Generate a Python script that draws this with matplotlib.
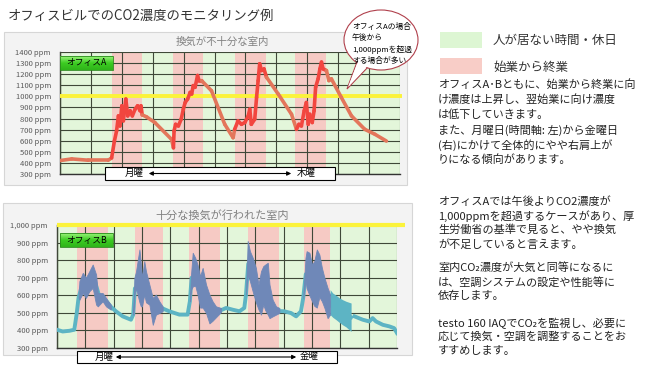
import matplotlib
matplotlib.use("Agg")
import matplotlib.pyplot as plt
import numpy as np
from matplotlib.collections import LineCollection
from matplotlib.patches import Rectangle, Ellipse, Polygon
from matplotlib.colors import LinearSegmentedColormap

plt.rcParams['font.family'] = ['Noto Sans CJK JP', 'DejaVu Sans']

# ---------------- data ----------------
# Office A (time axis in 12h units, 0..11)
a_x = [0, 0.38, 0.92, 1.56, 1.67, 1.76, 1.83, 1.89, 1.94, 2.0, 2.05, 2.13, 2.19, 2.27, 2.34, 2.43,
       2.51, 2.59, 2.62, 2.66, 2.80, 3.07, 3.61, 3.67, 3.69, 3.74, 3.83, 3.92, 3.99, 4.05, 4.13,
       4.21, 4.26, 4.31, 4.37, 4.45, 4.5, 4.58, 4.9, 5.33, 5.6, 5.65, 5.76, 5.87, 5.98, 6.09, 6.14,
       6.19, 6.3, 6.36, 6.41, 6.46, 6.52, 6.6, 6.68, 7.06, 7.49, 7.65, 7.73, 7.81, 7.9, 7.97, 8.03,
       8.08, 8.16, 8.22, 8.27, 8.35, 8.41, 8.46, 8.51, 8.62, 8.7, 8.78, 9.1, 9.43, 9.86, 10.19, 10.56]
a_y = [421, 436, 424, 424, 445, 597, 688, 824, 733, 915, 779, 976, 824, 870, 824, 885,
       915, 870, 915, 833, 815, 764, 612, 536, 688, 748, 733, 794, 885, 945, 976,
       1036, 1021, 1097, 1082, 1188, 1142, 1142, 1051, 748, 627, 703, 779, 748, 764, 824, 885,
       748, 794, 991, 1142, 1294, 1233, 1248, 1173, 1021, 839, 703, 748, 733, 870, 945, 748,
       839, 764, 870, 1082, 1158, 1248, 1309, 1248, 1233, 1142, 1158, 991, 824, 703, 658, 597]
a_work_start = [1.67, 3.67, 5.65, 7.60]
a_work_end = [2.66, 4.64, 6.65, 8.62]
a_yticks = [300, 400, 500, 600, 700, 800, 900, 1000, 1100, 1200, 1300, 1400]

# Office B (time axis 0..12)
b_x = [0, 0.2, 0.44, 0.61, 0.69, 0.76, 0.9, 1.1, 1.3, 1.5, 1.7, 1.9, 2.08, 2.32, 2.61, 2.69,
       2.75, 3.0, 3.3, 3.6, 3.73, 3.96, 4.32, 4.61, 4.69, 4.75, 5.0, 5.3, 5.6, 5.79, 5.97, 6.2,
       6.44, 6.61, 6.67, 6.75, 7.0, 7.3, 7.6, 7.85, 8.02, 8.26, 8.44, 8.61, 8.69, 8.78, 9.0, 9.3,
       9.64, 9.85, 10.1, 10.38, np.nan, 10.5, 10.79, 11.02, 11.14, 11.26, 11.5, 11.73, 11.9, 12.0]
b_y = [404, 394, 398, 404, 490, 585, 670, 680, 700, 590, 570, 535, 509, 480, 461, 490,
       640, 620, 580, 530, 525, 509, 490, 490, 566, 700, 650, 560, 520, 515, 528, 518,
       509, 528, 604, 780, 640, 650, 530, 510, 509, 499, 480, 509, 585, 720, 680, 700,
       545, 520, 500, 475, np.nan, 480, 461, 451, 470, 451, 432, 423, 413, 385]
band1_x = [0.76, 0.79, 0.91, 1.02, 1.14, 1.26, 1.38, 1.44, 1.61, 1.73, 1.9]
band1_hi = [585, 680, 728, 700, 737, 775, 718, 613, 613, 585, 547]
band1_lo = [585, 575, 613, 585, 623, 642, 547, 537, 566, 537, 518]
band2_x = [2.69, 2.73, 2.79, 2.85, 2.91, 2.96, 3.0, 3.08, 3.14, 3.26, 3.38, 3.49, 3.61, 3.73]
band2_hi = [490, 699, 737, 800, 861, 780, 699, 794, 737, 661, 585, 604, 566, 537]
band2_lo = [490, 604, 642, 600, 560, 537, 537, 604, 560, 547, 432, 490, 499, 509]
band3_x = [4.69, 4.73, 4.79, 4.88, 4.96, 5.05, 5.14, 5.26, 5.38, 5.49, 5.61, 5.79]
band3_hi = [566, 718, 842, 813, 775, 709, 756, 661, 604, 566, 537, 528]
band3_lo = [566, 632, 650, 655, 604, 530, 530, 500, 440, 455, 475, 505]
band4_x = [6.67, 6.73, 6.81, 6.91, 7.02, 7.11, 7.2, 7.28, 7.35, 7.44, 7.5, 7.61, 7.73, 7.85]
band4_hi = [604, 909, 851, 813, 756, 661, 737, 766, 775, 785, 661, 575, 537, 528]
band4_lo = [604, 718, 680, 620, 560, 520, 490, 547, 515, 490, 470, 480, 490, 500]
band5_x = [8.69, 8.77, 8.81, 8.91, 9.0, 9.08, 9.17, 9.26, 9.35, 9.44, 9.55, 9.64]
band5_hi = [585, 813, 851, 842, 775, 794, 861, 832, 756, 699, 642, 604]
band5_lo = [585, 690, 640, 600, 566, 540, 530, 590, 566, 528, 470, 490]
tband_x = [9.64, 9.73, 9.85, 9.97, 10.08, 10.2, 10.38]
tband_hi = [632, 613, 600, 585, 575, 566, 556]
tband_lo = [490, 475, 461, 445, 432, 420, 394]
b_work_start = [0.72, 2.75, 4.66, 6.73, 8.70]
b_work_end = [1.80, 3.75, 5.75, 7.83, 9.62]
b_yticks = [300, 400, 500, 600, 700, 800, 900, 1000]
limit = 1000

title = "オフィスビルでのCO2濃度のモニタリング例"
title_a = "換気が不十分な室内"
title_b = "十分な換気が行われた室内"
legend_labels = ["人が居ない時間・休日", "始業から終業"]
bubble_lines = ["オフィスAの場合", "午後から", "1,000ppmを超過", "する場合が多い"]
para_lines = [
    ["オフィスA･Bともに、始業から終業に向", "け濃度は上昇し、翌始業に向け濃度", "は低下していきます。",
     "また、月曜日(時間軸: 左)から金曜日", "(右)にかけて全体的にやや右肩上が", "りになる傾向があります。"],
    ["オフィスAでは午後よりCO2濃度が", "1,000ppmを超過するケースがあり、厚", "生労働省の基準で見ると、やや換気",
     "が不足していると言えます。"],
    ["室内CO₂濃度が大気と同等になるに", "は、空調システムの設定や性能等に", "依存します。"],
    ["testo 160 IAQでCO₂を監視し、必要に", "応じて換気・空調を調整することをお", "すすめします。"],
]
para_y = [[85, 100, 115, 130, 145, 160], [202, 216, 230, 244], [268, 282, 296], [323, 337, 351]]

# ---------------- style ----------------
GREEN = '#e3f6da'
PINK = '#f6cac4'
GRID = '#3f4838'
YELLOW = '#fbf33a'
RED = '#f2463f'
ORANGE = '#e3765b'
TEAL = '#5db4c4'
BLUEGRAY = '#6f88b8'

W, H = 650, 381
fig = plt.figure(figsize=(6.5, 3.81), dpi=100)
fig.patch.set_facecolor('white')


def ax_rect(l, t, r, b):
    return [l / W, 1 - b / H, (r - l) / W, (b - t) / H]


bg = fig.add_axes([0, 0, 1, 1], zorder=0)
bg.set_xlim(0, W)
bg.set_ylim(H, 0)
bg.axis('off')
bg.add_patch(Rectangle((4, 32), 403, 153, fc='#f3f3f3', ec='#d6d6d6', lw=0.8))
bg.add_patch(Rectangle((3, 203), 409, 152, fc='#f3f3f3', ec='#d6d6d6', lw=0.8))


def style_axes(ax, yticks, labels, xmax):
    ax.set_facecolor(GREEN)
    ax.set_xlim(0, xmax)
    ax.set_ylim(yticks[0], yticks[-1])
    ax.set_xticks(range(0, xmax + 1))
    ax.set_yticks(yticks)
    ax.set_yticklabels(labels)
    ax.set_axisbelow(False)
    ax.grid(True, color=GRID, lw=0.8)
    ax.tick_params(axis='y', length=0, pad=6.5, labelsize=5.5, labelcolor='#5a5a5a')
    ax.tick_params(axis='x', length=0, labelbottom=False)
    for s in ['top', 'right']:
        ax.spines[s].set_visible(False)
    for s in ['left', 'bottom']:
        ax.spines[s].set_color('#333333')
        ax.spines[s].set_linewidth(1.0)


# ---- top chart ----
ax1 = fig.add_axes(ax_rect(60, 52, 400, 174), zorder=1)
style_axes(ax1, a_yticks, [f"{v} ppm" for v in a_yticks], 11)
for s, e in zip(a_work_start, a_work_end):
    ax1.axvspan(s, e, color=PINK, lw=0, zorder=1)
ax1.plot([0, 11.07], [limit, limit], color=YELLOW, lw=2.8, zorder=3.5, clip_on=False, solid_capstyle='butt')
pts = np.column_stack([a_x, a_y])
segs = np.stack([pts[:-1], pts[1:]], axis=1)
cols = []
for i in range(len(a_x) - 1):
    m = 0.5 * (a_x[i] + a_x[i + 1])
    inwork = any(s <= m <= e for s, e in zip(a_work_start, a_work_end))
    cols.append(RED if inwork else ORANGE)
lc = LineCollection(segs, colors=cols, linewidths=2.6, capstyle='round', joinstyle='round', zorder=4)
ax1.add_collection(lc)

# ---- bottom chart ----
ax2 = fig.add_axes(ax_rect(57, 225, 397, 348), zorder=1)
style_axes(ax2, b_yticks, [f"{v:,} ppm" for v in b_yticks], 12)
for s, e in zip(b_work_start, b_work_end):
    ax2.axvspan(s, e, color=PINK, lw=0, zorder=1)
ax2.plot(b_x, b_y, color=TEAL, lw=2.8, zorder=4, solid_joinstyle='round')
ax2.fill_between(tband_x, tband_lo, tband_hi, color=TEAL, lw=0, zorder=4.2)
for bx, lo, hi in [(band1_x, band1_lo, band1_hi), (band2_x, band2_lo, band2_hi),
                   (band3_x, band3_lo, band3_hi), (band4_x, band4_lo, band4_hi),
                   (band5_x, band5_lo, band5_hi)]:
    ax2.fill_between(bx, lo, hi, color=BLUEGRAY, lw=0.6, ec=BLUEGRAY, zorder=4.5)
ax2.plot([0, 12.28], [limit, limit], color=YELLOW, lw=3.0, zorder=5, clip_on=False, solid_capstyle='butt')

# ---------------- overlay decorations ----------------
ov = fig.add_axes([0, 0, 1, 1], zorder=3)
ov.patch.set_visible(False)
ov.axis('off')

ov.text(8, 16, title, fontsize=9.6, va='center', ha='left', color='#333333')
ov.text(222, 42, title_a, fontsize=7.5, va='center', ha='center', color='#808080')
ov.text(222, 215, title_b, fontsize=8, va='center', ha='center', color='#808080')

gcmap = LinearSegmentedColormap.from_list('g', ['#9af47a', '#3ccc22', '#2fb41a'])
grad = np.linspace(0, 1, 32).reshape(-1, 1)
for (l, t, lab) in [(60, 56, "オフィスA"), (60, 233, "オフィスB")]:
    ov.imshow(grad, extent=(l, l + 53, t + 14, t), cmap=gcmap, aspect='auto', zorder=1)
    ov.add_patch(Rectangle((l, t), 53, 14, fc='none', ec='#2a8a1c', lw=0.6, zorder=2))
    ov.text(l + 26.5, t + 7, lab, fontsize=6.3, ha='center', va='center', color='black', zorder=3)

# day-range boxes
for (l, t, w, h, ltxt, lx, ax0, ax1_, rtxt, rx) in [
        (105, 167, 230, 13, "月曜", 134, 146, 294, "木曜", 306),
        (77, 351, 260, 12, "月曜", 104, 113, 299, "金曜", 309)]:
    ov.add_patch(Rectangle((l, t), w, h, fc='white', ec='black', lw=0.8, zorder=2))
    yc = t + h / 2
    ov.text(lx, yc, ltxt, fontsize=6.8, ha='center', va='center', color='black', zorder=3)
    ov.text(rx, yc, rtxt, fontsize=6.8, ha='center', va='center', color='black', zorder=3)
    ov.annotate('', xy=(ax1_, yc), xytext=(ax0, yc),
                arrowprops=dict(arrowstyle='<|-|>', color='black', lw=0.8, mutation_scale=6), zorder=3)

# speech bubble
BUB_EC = '#b0404c'
ov.add_patch(Polygon([(357, 62), (347, 89), (369, 66)], closed=True, fc='white', ec=BUB_EC, lw=0.8, zorder=4))
ov.add_patch(Ellipse((381, 40), 74, 60, fc='white', ec=BUB_EC, lw=0.8, zorder=4))
ov.add_patch(Polygon([(358, 61.5), (348, 87), (368, 65.5)], closed=True, fc='white', ec='none', zorder=4.5))
for i, line in enumerate(bubble_lines):
    ov.text(352, [26.5, 38, 49.5, 61][i], line, fontsize=5.6, ha='left', va='center', color='black', zorder=5)

# legend
ov.add_patch(Rectangle((440, 32), 42, 16, fc='#ddf6d3', ec='none'))
ov.add_patch(Rectangle((440, 58), 42, 16, fc='#f8cdc7', ec='none'))
ov.text(493, 40, legend_labels[0], fontsize=9, ha='left', va='center', color='#333333')
ov.text(493, 67, legend_labels[1], fontsize=9, ha='left', va='center', color='#333333')

for lines, ys in zip(para_lines, para_y):
    for line, y in zip(lines, ys):
        ov.text(438, y, line, fontsize=8, ha='left', va='center', color='#222222')

ov.set_xlim(0, W)
ov.set_ylim(H, 0)

fig.savefig('out.png', dpi=100, facecolor='white')
